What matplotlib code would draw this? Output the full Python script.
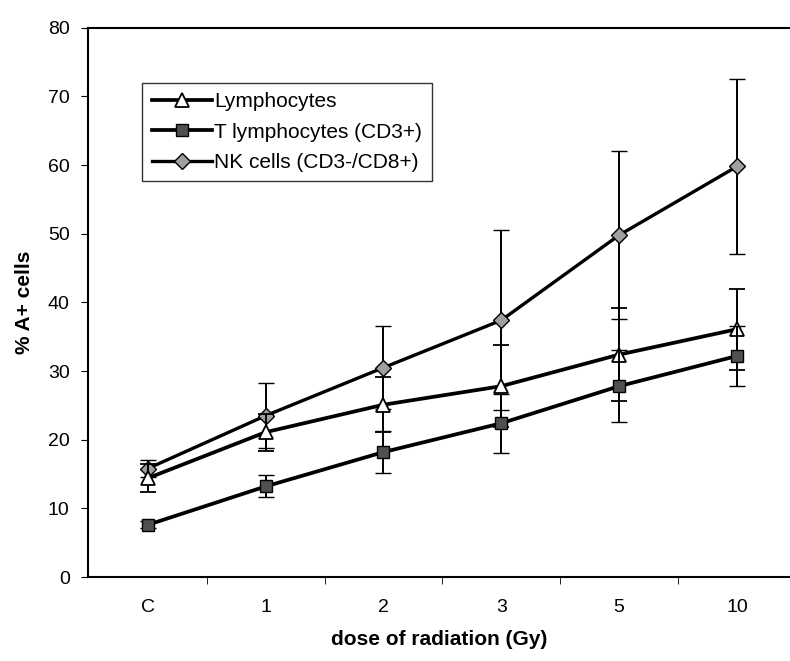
import matplotlib.pyplot as plt
import numpy as np

plt.rcParams['font.family'] = ['Liberation Sans', 'DejaVu Sans']

doses = ['C', '1', '2', '3', '5', '10']

lymph = [14.4, 21.1, 25.1, 27.8, 32.4, 36.1]
lymph_err = [2.0, 2.7, 4.0, 6.0, 6.8, 5.9]

tcells = [7.6, 13.2, 18.2, 22.4, 27.8, 32.2]
tcells_err = [0.5, 1.6, 3.0, 4.3, 5.2, 4.4]

nk = [15.8, 23.5, 30.5, 37.4, 49.8, 59.8]
nk_err = [1.3, 4.7, 6.0, 13.1, 12.2, 12.7]

x = np.arange(len(doses))

fig = plt.figure(figsize=(7.9, 6.61), dpi=100)
ax = fig.add_axes([0.111, 0.127, 0.889, 0.831])

ax.errorbar(x, nk, yerr=nk_err, color='black', lw=2.4, elinewidth=1.4,
            capsize=6, capthick=1.6, marker='D', ms=8, mfc='#a0a0a0',
            mec='black', mew=1, label='NK cells (CD3-/CD8+)', zorder=3)
ax.errorbar(x, lymph, yerr=lymph_err, color='black', lw=2.7, elinewidth=1.4,
            capsize=6, capthick=1.6, marker='^', ms=10, mfc='white',
            mec='black', mew=1.3, label='Lymphocytes', zorder=4)
ax.errorbar(x, tcells, yerr=tcells_err, color='black', lw=2.7, elinewidth=1.4,
            capsize=6, capthick=1.6, marker='s', ms=8.5, mfc='#505050',
            mec='black', mew=1, label='T lymphocytes (CD3+)', zorder=5)

ax.set_xlim(-0.51, 5.45)
ax.set_ylim(0, 80)
ax.set_yticks(np.arange(0, 81, 10))
ax.set_xticks(x)
ax.set_xticklabels(doses)
ax.set_xticks(np.arange(0.5, 5.0, 1), minor=True)
ax.tick_params(axis='x', which='major', length=0, pad=16, labelsize=14)
ax.tick_params(axis='x', which='minor', length=5, direction='out')
ax.tick_params(axis='y', length=5, direction='out', labelsize=14, pad=8)

ax.spines['right'].set_visible(False)
for s in ['left', 'bottom', 'top']:
    ax.spines[s].set_linewidth(1.5)

ax.set_xlabel('dose of radiation (Gy)', fontsize=15, fontweight='bold', labelpad=10)
ax.set_ylabel('% A+ cells', fontsize=15, fontweight='bold', labelpad=10)

h, l = ax.get_legend_handles_labels()
order = [1, 2, 0]
leg = ax.legend([h[i][0] for i in order], [l[i] for i in order],
                loc='upper left', bbox_to_anchor=(0.078, 0.9),
                fontsize=15, frameon=True, fancybox=False,
                edgecolor='black', handlelength=2.9, handletextpad=0.1,
                borderpad=0.45, labelspacing=0.55, borderaxespad=0)
leg.get_frame().set_linewidth(1.0)

plt.savefig('out.png', dpi=100)
